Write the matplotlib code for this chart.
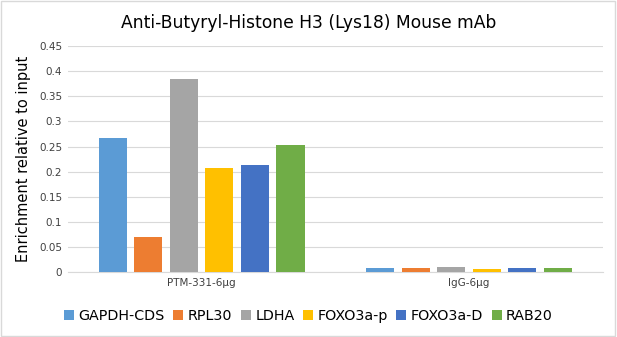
import matplotlib
matplotlib.use("Agg")
import matplotlib.pyplot as plt
import numpy as np

categories = ["PTM-331-6μg", "IgG-6μg"]
series = ["GAPDH-CDS", "RPL30", "LDHA", "FOXO3a-p", "FOXO3a-D", "RAB20"]
values = {
    "GAPDH-CDS": [0.267, 0.008],
    "RPL30": [0.070, 0.007],
    "LDHA": [0.385, 0.010],
    "FOXO3a-p": [0.208, 0.006],
    "FOXO3a-D": [0.213, 0.008],
    "RAB20": [0.254, 0.008],
}
colors = ["#5B9BD5", "#ED7D31", "#A5A5A5", "#FFC000", "#4472C4", "#70AD47"]
yticks = [0, 0.05, 0.1, 0.15, 0.2, 0.25, 0.3, 0.35, 0.4, 0.45]
ytick_labels = ["0", "0.05", "0.1", "0.15", "0.2", "0.25", "0.3", "0.35", "0.4", "0.45"]

fig = plt.figure(figsize=(6.17, 3.37), dpi=100)
ax = fig.add_axes([0.110, 0.193, 0.867, 0.670])

x = np.arange(len(categories))
step = 0.133
width = 0.105
for i, (s, c) in enumerate(zip(series, colors)):
    ax.bar(x + (i - 2.5) * step, values[s], width=width, color=c, label=s, zorder=3)

ax.set_xlim(-0.5, 1.5)
ax.set_ylim(0, 0.45)
ax.set_yticks(yticks)
ax.set_yticklabels(ytick_labels, fontsize=7.5, color="#404040")
ax.set_xticks(x)
ax.set_xticklabels(categories, fontsize=7.5, color="#404040")
ax.tick_params(axis="both", length=0, pad=4)
ax.grid(axis="y", color="#D9D9D9", linewidth=0.8, zorder=0)
for sp in ["top", "right", "left"]:
    ax.spines[sp].set_visible(False)
ax.spines["bottom"].set_color("#D9D9D9")
ax.spines["bottom"].set_linewidth(0.8)

ax.set_ylabel("Enrichment relative to input", fontsize=10.5, color="#000000", labelpad=6)
fig.text(0.5, 0.932, "Anti-Butyryl-Histone H3 (Lys18) Mouse mAb", ha="center", va="center",
         fontsize=12.3, fontweight="medium", color="#000000")

leg = fig.legend(loc="center", bbox_to_anchor=(0.5, 0.062), ncol=6, frameon=False,
                 fontsize=10.3, handlelength=0.7, handleheight=0.7, handletextpad=0.3,
                 columnspacing=0.6)

border = plt.Rectangle((0.002, 0.003), 0.995, 0.993, transform=fig.transFigure,
                       fill=False, edgecolor="#D9D9D9", linewidth=1)
fig.patches.append(border)

fig.savefig("out.png", dpi=100)
